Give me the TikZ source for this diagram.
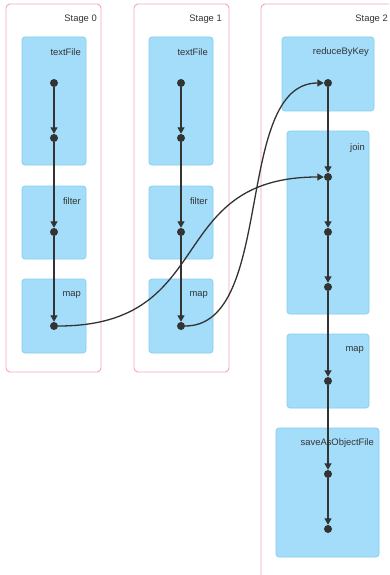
\documentclass[tikz,border=0pt]{standalone}
\usepackage{fontspec}
\setmainfont{Liberation Sans}
\usetikzlibrary{arrows.meta}
\definecolor{stageedge}{HTML}{F2A7B8}
\definecolor{opfill}{HTML}{A3DDF9}
\definecolor{opedge}{HTML}{84CEF1}
\definecolor{ink}{HTML}{333333}
\tikzset{
  stagebox/.style={draw=stageedge, line width=0.9pt, rounded corners=4pt, fill=white},
  opbox/.style={draw=opedge, line width=0.7pt, rounded corners=3pt, fill=opfill},
  oplabel/.style={anchor=east, inner sep=0pt, text=ink, font=\fontsize{9.4}{10}\selectfont},
  rdd/.style={circle, fill=ink, inner sep=0pt, minimum size=8pt},
  dep/.style={draw=ink, line width=1.3pt, -{Triangle[width=7pt,length=6.5pt]}},
}
\begin{document}
\begin{tikzpicture}[x=1pt, y=-1pt]
\clip (0,0) rectangle (389,575);
\fill[white] (0,0) rectangle (389,575);

% stages
\draw[stagebox] (6,4) rectangle (101,372);
\draw[stagebox] (134,4) rectangle (229,372);
\draw[stagebox] (261,4) rectangle (396,590);
\node[oplabel] (s0) at (97,19) {Stage 0};
\node[oplabel] (s1) at (222,19) {Stage 1};
\node[oplabel] (s2) at (388,19) {Stage 2};

% operator boxes, stage 0
\draw[opbox] (22,37) rectangle (86,165);
\draw[opbox] (22,186) rectangle (86,259);
\draw[opbox] (22,279) rectangle (86,353);
\node[oplabel] (t0) at (81,52) {textFile};
\node[oplabel] (f0) at (81,201) {filter};
\node[oplabel] (m0) at (81,295) {map};

% operator boxes, stage 1
\draw[opbox] (149,37) rectangle (213,165);
\draw[opbox] (149,186) rectangle (213,259);
\draw[opbox] (149,279) rectangle (213,353);
\node[oplabel] (t1) at (208,52) {textFile};
\node[oplabel] (f1) at (208,201) {filter};
\node[oplabel] (m1) at (208,295) {map};

% operator boxes, stage 2
\draw[opbox] (282,37) rectangle (374,111);
\draw[opbox] (287,131) rectangle (369,314);
\draw[opbox] (287,334) rectangle (369,408);
\draw[opbox] (276,428) rectangle (379,557);
\node[oplabel] (r2) at (369,52) {reduceByKey};
\node[oplabel] (j2) at (365,148) {join};
\node[oplabel] (m2) at (364,350) {map};
\node[oplabel] (o2) at (374,443) {saveAsObjectFile};

% RDDs
\node[rdd] (a1) at (54,83) {};
\node[rdd] (a2) at (54,138) {};
\node[rdd] (a3) at (54,232) {};
\node[rdd] (a4) at (54,326) {};
\node[rdd] (b1) at (181,83) {};
\node[rdd] (b2) at (181,138) {};
\node[rdd] (b3) at (181,232) {};
\node[rdd] (b4) at (181,326) {};
\node[rdd] (c1) at (328,83) {};
\node[rdd] (c2) at (328,177) {};
\node[rdd] (c3) at (328,232) {};
\node[rdd] (c4) at (328,287) {};
\node[rdd] (c5) at (328,381) {};
\node[rdd] (c6) at (328,474) {};
\node[rdd] (c7) at (328,529) {};

% narrow dependencies
\draw[dep] (a1) -- (a2);
\draw[dep] (a2) -- (a3);
\draw[dep] (a3) -- (a4);
\draw[dep] (b1) -- (b2);
\draw[dep] (b2) -- (b3);
\draw[dep] (b3) -- (b4);
\draw[dep] (c1) -- (c2);
\draw[dep] (c2) -- (c3);
\draw[dep] (c3) -- (c4);
\draw[dep] (c4) -- (c5);
\draw[dep] (c5) -- (c6);
\draw[dep] (c6) -- (c7);

% shuffle dependencies
\draw[dep] (a4) .. controls +(165,0) and +(-165,0) .. (c2);
\draw[dep] (b4) .. controls +(95,0) and +(-95,0) .. (c1);
\end{tikzpicture}
\end{document}
